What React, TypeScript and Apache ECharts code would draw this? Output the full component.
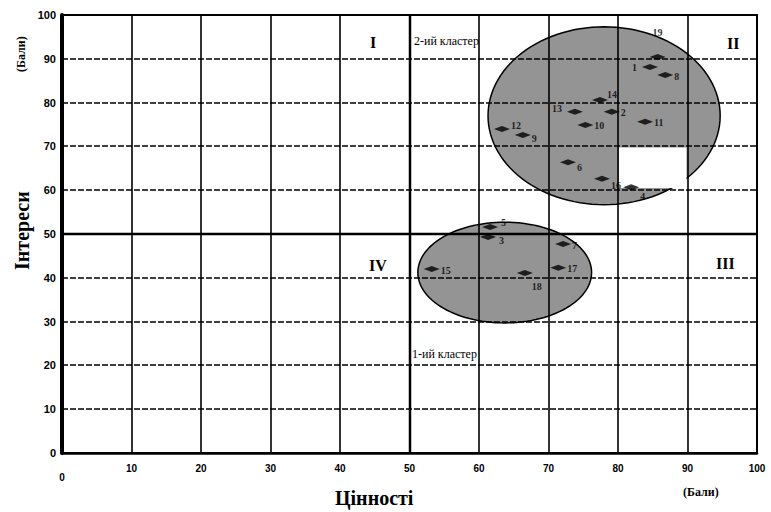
import React, { useEffect, useRef } from "react";
import * as echarts from "echarts";

// Point ids and values (Цінності, Інтереси)
const pointIds = ["1","2","3","4","5","6","7","8","9","10","11","12","13","14","15","16","17","18","19"];
const valuesX = [84.6, 79.1, 61.3, 81.9, 61.6, 72.8, 72.1, 86.8, 66.3, 75.3, 83.9, 63.3, 73.8, 77.4, 53.2, 77.7, 71.4, 66.6, 85.7];
const valuesY = [88.1, 77.9, 49.3, 60.7, 51.6, 66.4, 47.7, 86.3, 72.6, 74.9, 75.6, 74.0, 77.9, 80.6, 42.0, 62.6, 42.3, 41.1, 90.4];

// Clusters: centre x, centre y, radius x, radius y (in axis units)
const clusterNames = ["2-ий кластер", "1-ий кластер"];
const clusterCx = [78.0, 63.7];
const clusterCy = [77.0, 41.2];
const clusterRx = [16.7, 12.5];
const clusterRy = [20.3, 11.5];

// blank cell inside cluster 2: x0, y0, x1, y1
const blankCell = [80, 70, 90, 60.5];

const xTicks = [0, 10, 20, 30, 40, 50, 60, 70, 80, 90, 100];
const yTicks = [0, 10, 20, 30, 40, 50, 60, 70, 80, 90, 100];

// label placement per point (style only)
const labelPlace: Record<string, [string, number[]]> = {
  "1": ["left", [0, 0]],
  "4": ["right", [-4, 9]],
  "5": ["right", [-2, -4]],
  "3": ["right", [-2, 3]],
  "6": ["right", [-4, 5]],
  "12": ["right", [-4, -3]],
  "13": ["left", [0, -3]],
  "14": ["right", [-6, -5]],
  "16": ["right", [-4, 7]],
  "18": ["right", [-6, 14]],
  "19": ["top", [0, -12]],
  "9": ["right", [-4, 3]],
};

export default function App() {
  const ref = useRef<HTMLDivElement>(null);
  useEffect(() => {
    if (!ref.current) return;
    document.body.style.margin = "0";
    const chart = echarts.init(ref.current, null, { renderer: "svg" });
    const points = pointIds.map((id, i) => {
      const p = labelPlace[id] || ["right", [-4, 1]];
      return {
        value: [valuesX[i], valuesY[i]],
        name: id,
        label: { show: true, position: p[0], offset: p[1], formatter: id },
      };
    });
    const inner = (t: number[]) => t.filter((v) => v > t[0] && v < t[t.length - 1]);
    const xLines = inner(xTicks);
    const yLines = inner(yTicks);
    const serif = "'Liberation Serif', 'Times New Roman', serif";
    const sans = "'Liberation Sans', Arial, sans-serif";

    // one custom item drawing, in order: cluster ellipses, blank cell, grid lines
    const renderBackdrop = (params: any, api: any) => {
      const children: any[] = [];
      clusterNames.forEach((n, i) => {
        const pts: number[][] = [];
        for (let k = 0; k < 120; k++) {
          const t = (k / 120) * Math.PI * 2;
          pts.push(api.coord([clusterCx[i] + clusterRx[i] * Math.cos(t), clusterCy[i] + clusterRy[i] * Math.sin(t)]));
        }
        children.push({
          type: "polygon",
          shape: { points: pts },
          style: { fill: "rgba(0,0,0,0.42)", stroke: "#000", lineWidth: 1.5 },
        });
      });
      const a = api.coord([blankCell[0], blankCell[1]]);
      const b = api.coord([blankCell[2], blankCell[3]]);
      children.push({
        type: "rect",
        shape: { x: a[0] + 1, y: a[1] + 1, width: b[0] - a[0] - 2, height: b[1] - a[1] - 1 },
        style: { fill: "#fff" },
      });
      xLines.forEach((v) => {
        const p1 = api.coord([v, 0]);
        const p2 = api.coord([v, 100]);
        const x = Math.round(p1[0]);
        children.push({
          type: "line",
          shape: { x1: x, y1: p1[1], x2: x, y2: p2[1] },
          style: { stroke: "#000", lineWidth: v === 50 ? 2.5 : 1.6 },
        });
      });
      yLines.forEach((v) => {
        const p1 = api.coord([0, v]);
        const p2 = api.coord([100, v]);
        const y = Math.round(p1[1]);
        children.push({
          type: "line",
          shape: { x1: p1[0], y1: y, x2: p2[0], y2: y },
          style: { stroke: "#000", lineWidth: v === 50 ? 2.5 : 1.6, lineDash: v === 50 ? null : [6, 2] },
        });
      });
      return { type: "group", children };
    };

    chart.setOption({
      animation: false,
      backgroundColor: "#fff",
      grid: { left: 62, right: 14, top: 15, bottom: 59, show: true, borderColor: "#000", borderWidth: 2 },
      xAxis: {
        type: "value", min: 0, max: 100, interval: 10,
        axisLine: { show: true, lineStyle: { color: "#000", width: 2.5 } },
        axisTick: { show: false },
        splitLine: { show: false },
        axisLabel: {
          color: "#000", fontFamily: sans, fontWeight: "bold", fontSize: 10, margin: 10,
          formatter: (v: number) => (v === 0 ? "{z|0}" : String(v)),
          rich: { z: { padding: [9, 0, 0, 0], fontFamily: sans, fontWeight: "bold", fontSize: 10, color: "#000" } },
        },
      },
      yAxis: {
        type: "value", min: 0, max: 100, interval: 10,
        axisLine: { show: true, lineStyle: { color: "#000", width: 4 } },
        axisTick: { show: false },
        splitLine: { show: false },
        axisLabel: { color: "#000", fontFamily: sans, fontWeight: "bold", fontSize: 11, margin: 6 },
      },
      series: [
        {
          type: "custom",
          silent: true,
          z: 1,
          data: [[0, 0]],
          renderItem: renderBackdrop,
        },
        {
          type: "scatter",
          z: 4,
          symbol: "diamond",
          symbolSize: [16, 6],
          itemStyle: { color: "#000" },
          label: { color: "#000", fontFamily: serif, fontWeight: "bold", fontSize: 10 },
          data: points,
        },
      ],
      graphic: [
        { type: "text", left: 370, top: 34, style: { text: "I", font: `bold 16px ${serif}`, fill: "#000" } },
        { type: "text", left: 727, top: 35, style: { text: "II", font: `bold 16px ${serif}`, fill: "#000" } },
        { type: "text", left: 716, top: 255, style: { text: "III", font: `bold 16px ${serif}`, fill: "#000" } },
        { type: "text", left: 369, top: 257, style: { text: "IV", font: `bold 16px ${serif}`, fill: "#000" } },
        { type: "text", left: 414, top: 35, style: { text: clusterNames[0], font: `12px ${serif}`, fill: "#000" } },
        { type: "text", left: 412, top: 348, style: { text: clusterNames[1], font: `12px ${serif}`, fill: "#000" } },
        { type: "text", left: 335, top: 488, style: { text: "Цінності", font: `bold 20px ${serif}`, fill: "#000" } },
        { type: "text", left: 683, top: 486, style: { text: "(Бали)", font: `bold 12px ${serif}`, fill: "#000" } },
        { type: "text", x: 12, y: 270, rotation: Math.PI / 2, style: { text: "Інтереси", font: `bold 20px ${serif}`, fill: "#000" } },
        { type: "text", x: 15, y: 72, rotation: Math.PI / 2, style: { text: "(Бали)", font: `bold 12px ${serif}`, fill: "#000" } },
      ],
    });
    return () => chart.dispose();
  }, []);
  return <div ref={ref} style={{ width: 771, height: 512 }} />;
}
